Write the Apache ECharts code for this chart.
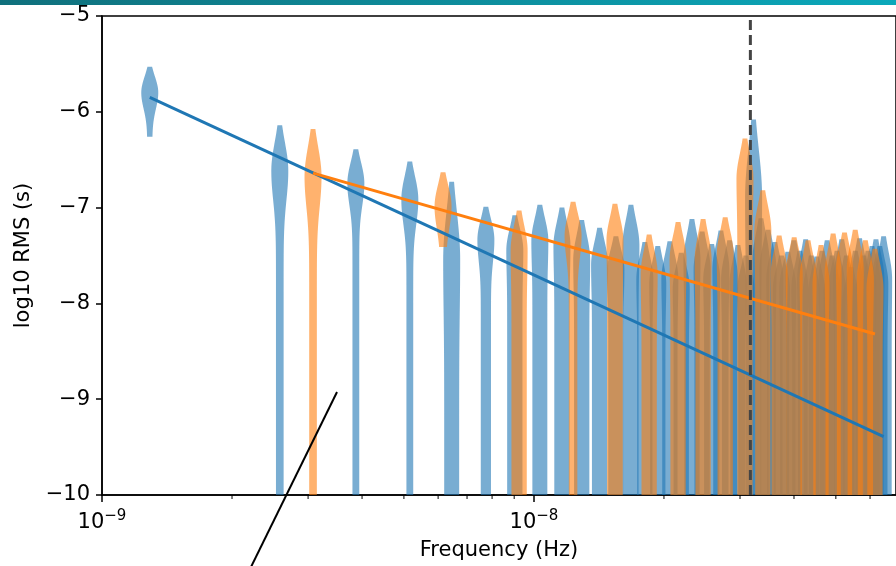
<!DOCTYPE html>
<html><head><meta charset="utf-8">
<script src="https://cdn.jsdelivr.net/npm/echarts@6/dist/echarts.min.js"></script>
<style>html,body{margin:0;padding:0;background:#fff}#c{width:896px;height:566px}</style>
</head><body><div id="c"></div>
<script>
// ---- data (frequencies in nHz, values in log10 RMS (s)) ----
const blueFreqNHz = [1.29,2.58,3.87,5.16,6.45,7.74,9.03,10.32,11.61,12.9,
  14.19,15.48,16.77,18.06,19.35,20.64,21.93,23.22,24.51,25.8,
  27.09,28.38,29.67,30.96,32.25,33.54,34.83,36.12,37.41,38.7,
  39.99,41.28,42.57,43.86,45.15,46.44,47.73,49.02,50.31,51.6,
  52.89,54.18,55.47,56.76,58.05,59.34,60.63,61.92,63.21,64.5];
const blueTop = [-5.53,-6.14,-6.39,-6.52,-6.73,-6.99,-7.08,-6.97,-7.00,-7.13,
  -7.21,-7.30,-6.97,-7.36,-7.40,-7.35,-7.47,-7.12,-7.25,-7.38,
  -7.24,-7.34,-7.39,-7.50,-6.08,-7.11,-7.23,-7.36,-7.50,-7.46,
  -7.34,-7.45,-7.33,-7.50,-7.51,-7.45,-7.34,-7.50,-7.45,-7.33,
  -7.50,-7.62,-7.45,-7.32,-7.50,-7.45,-7.40,-7.33,-7.40,-7.30];
const bluePeak = [-5.80,-6.62,-6.75,-6.92,-7.55,-7.34,-7.45,-7.35,-7.40,-7.55,
  -7.60,-7.65,-7.40,-7.75,-7.80,-7.75,-7.85,-7.55,-7.65,-7.75,
  -7.65,-7.75,-7.80,-7.85,-6.90,-7.55,-7.65,-7.75,-7.85,-7.85,
  -7.75,-7.85,-7.75,-7.90,-7.90,-7.85,-7.75,-7.90,-7.85,-7.75,
  -7.90,-8.00,-7.85,-7.75,-7.90,-7.85,-7.80,-7.75,-7.80,-7.75];
const blueStem = [0.30,0.45,0.40,0.40,0.88,0.60,0.90,0.88,0.90,0.90,
  0.90,0.90,0.90,0.90,0.90,0.90,0.90,0.90,0.90,0.90,
  0.90,0.90,0.90,0.90,0.90,0.90,0.90,0.90,0.90,0.90,
  0.90,0.90,0.90,0.90,0.90,0.90,0.90,0.90,0.90,0.90,
  0.90,0.90,0.90,0.90,0.90,0.90,0.90,0.90,0.90,0.95];
const blueBottom = [-6.26].concat(Array(49).fill(-10.5));

const orangeFreqNHz = [3.08,6.16,9.24,12.32,15.4,18.48,21.56,24.64,27.72,30.8,
  33.88,36.96,40.04,43.12,46.2,49.28,52.36,55.44,58.52,61.6];
const orangeTop = [-6.18,-6.63,-7.03,-6.94,-6.96,-7.28,-7.15,-7.12,-7.10,-6.28,
  -6.82,-7.29,-7.31,-7.34,-7.39,-7.27,-7.26,-7.23,-7.34,-7.43];
const orangePeak = [-6.68,-6.99,-7.45,-7.30,-7.35,-7.70,-7.55,-7.55,-7.50,-6.70,
  -7.25,-7.70,-7.70,-7.75,-7.80,-7.70,-7.65,-7.65,-7.75,-7.85];
const orangeStem = [0.45,0.35,0.90,0.50,0.92,0.90,0.90,0.90,0.90,0.90,
  0.90,0.90,0.90,0.90,0.90,0.90,0.90,0.90,0.90,0.90];
const orangeBottom = [-10.5,-7.41].concat(Array(18).fill(-10.5));

const blueFitFreqNHz = [1.29, 64.5];
const blueFitVal = [-5.85, -9.39];
const orangeFitFreqNHz = [3.08, 61.6];
const orangeFitVal = [-6.64, -8.32];

const yearFreq = 3.17e-8;          // 1/yr
const xMin = 1e-9, xMax = 6.89e-8;
const yMin = -10, yMax = -5;
const minorTickFreq = [2e-9,3e-9,4e-9,5e-9,6e-9,7e-9,8e-9,9e-9,2e-8,3e-8,4e-8,5e-8,6e-8];

// ---- build ----
const nHz = v => v * 1e-9;
const blueRows = blueFreqNHz.map((f,i)=>[nHz(f), blueTop[i], bluePeak[i], blueStem[i], blueBottom[i]]);
const orangeRows = orangeFreqNHz.map((f,i)=>[nHz(f), orangeTop[i], orangePeak[i], orangeStem[i], orangeBottom[i]]);

const HALF = 8.5;
function violin(color) {
  return function (params, api) {
    const f = api.value(0), top = api.value(1), peak = api.value(2), stem = api.value(3), bot = api.value(4);
    const s = Math.max((top - peak) / 1.6, 0.05);
    const ys = [];
    const N1 = 30, N2 = 80;
    for (let j = 0; j <= N1; j++) ys.push(top + (peak - top) * j / N1);
    for (let j = 1; j <= N2; j++) ys.push(peak + (bot - peak) * j / N2);
    const right = [], left = [];
    ys.forEach(y => {
      const z = (y - peak) / s;
      const g = Math.exp(-0.5 * z * z);
      const w = (y >= peak) ? g : stem + (1 - stem) * g;
      const p = api.coord([f, y]);
      right.push([p[0] + HALF * w, p[1]]);
      left.unshift([p[0] - HALF * w, p[1]]);
    });
    return { type: 'polygon', shape: { points: right.concat(left) },
      style: { fill: color, opacity: 0.6 } };
  };
}

const FONT = 'DejaVu Sans';
const chart = echarts.init(document.getElementById('c'), null, { renderer: 'canvas' });
chart.setOption({
  animation: false,
  backgroundColor: '#fff',
  grid: { left: 102, top: 16, width: 796, height: 479, show: true, borderColor: '#000', borderWidth: 1.5, backgroundColor: 'transparent' },
  xAxis: {
    type: 'log', logBase: 10, min: xMin, max: xMax,
    name: 'Frequency (Hz)', nameLocation: 'middle', nameGap: 45,
    nameTextStyle: { fontFamily: FONT, fontSize: 21, color: '#000' },
    axisLine: { show: true, lineStyle: { color: '#000', width: 1.5 } },
    axisTick: { show: true, length: 7, lineStyle: { color: '#000', width: 1.5 } },
    splitLine: { show: false }, minorTick: { show: false },
    axisLabel: {
      showMaxLabel: false, margin: 14, color: '#000', fontFamily: FONT, fontSize: 21,
      formatter: function (v) {
        const e = Math.round(Math.log10(v));
        if (Math.abs(v - Math.pow(10, e)) / v > 0.01) return '';
        return '10{s|' + (e < 0 ? '\u2212' : '') + Math.abs(e) + '}';
      },
      rich: { s: { fontFamily: FONT, fontSize: 15, verticalAlign: 'top', padding: [0, 0, 12, 0], color: '#000' } }
    }
  },
  yAxis: {
    type: 'value', min: yMin, max: yMax, interval: 1,
    name: 'log10 RMS (s)', nameLocation: 'middle', nameGap: 68, nameRotate: 90,
    nameTextStyle: { fontFamily: FONT, fontSize: 21, color: '#000' },
    axisLine: { show: true, lineStyle: { color: '#000', width: 1.5 } },
    axisTick: { show: true, length: 6, lineStyle: { color: '#000', width: 1.5 } },
    splitLine: { show: false },
    axisLabel: { margin: 12, color: '#000', fontFamily: FONT, fontSize: 21,
      formatter: v => (v < 0 ? '\u2212' : '') + Math.abs(v) }
  },
  graphic: [
    { type: 'rect', left: 0, top: 0, shape: { width: 896, height: 5 }, z: 100,
      style: { fill: new echarts.graphic.LinearGradient(0, 0, 1, 0, [
        { offset: 0, color: '#10707c' }, { offset: 1, color: '#0ba8ba' }]) } },
    { type: 'line', shape: { x1: 337, y1: 392, x2: 251, y2: 567 }, z: 100,
      style: { stroke: '#000', lineWidth: 2 } }
  ],
  series: [
    { type: 'custom', name: 'blue', data: blueRows, renderItem: violin('#1f77b4'), clip: true, z: 2, silent: true },
    { type: 'custom', name: 'orange', data: orangeRows, renderItem: violin('#ff7f0e'), clip: true, z: 3, silent: true },
    { type: 'custom', name: 'minor', data: minorTickFreq.map(f => [f, yMin]), clip: false, z: 4, silent: true,
      renderItem: function (params, api) {
        const p = api.coord([api.value(0), api.value(1)]);
        return { type: 'line', shape: { x1: p[0], y1: p[1], x2: p[0], y2: p[1] + 4 }, style: { stroke: '#000', lineWidth: 1 } };
      } },
    { type: 'line', name: 'blueFit', data: blueFitFreqNHz.map((f,i)=>[nHz(f), blueFitVal[i]]),
      symbol: 'none', z: 6, lineStyle: { color: '#1f77b4', width: 3 }, silent: true },
    { type: 'line', name: 'orangeFit', data: orangeFitFreqNHz.map((f,i)=>[nHz(f), orangeFitVal[i]]),
      symbol: 'none', z: 7, lineStyle: { color: '#ff7f0e', width: 3 }, silent: true },
    { type: 'line', name: 'oneYear', data: [[yearFreq, yMin], [yearFreq, yMax]],
      symbol: 'none', z: 8, silent: true,
      lineStyle: { color: '#444', width: 3, type: [10, 5] } }
  ]
});
</script>
</body></html>
